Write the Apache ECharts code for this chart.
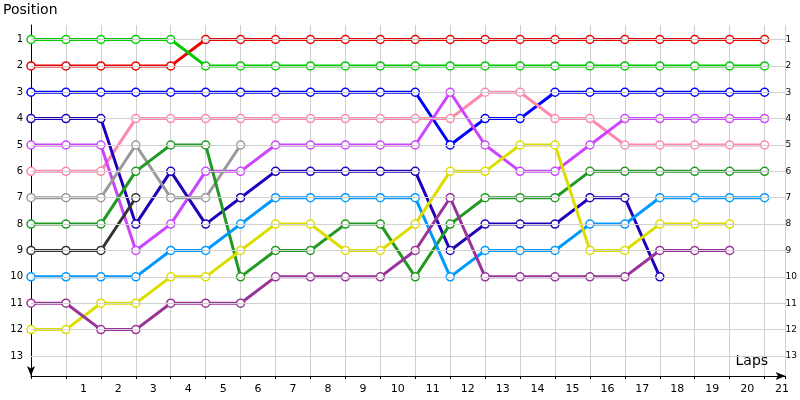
<!DOCTYPE html>
<html><head><meta charset="utf-8">
<script src="https://cdn.jsdelivr.net/npm/echarts@6/dist/echarts.min.js"></script>
<style>html,body{margin:0;background:#fff}#c{width:800px;height:400px}</style>
</head><body><div id="c"></div>
<script>
const laps = [0,1,2,3,4,5,6,7,8,9,10,11,12,13,14,15,16,17,18,19,20,21];
const red       = [2,2,2,2,2,1,1,1,1,1,1,1,1,1,1,1,1,1,1,1,1,1];
const green     = [1,1,1,1,1,2,2,2,2,2,2,2,2,2,2,2,2,2,2,2,2,2];
const blue      = [3,3,3,3,3,3,3,3,3,3,3,3,5,4,4,3,3,3,3,3,3,3];
const pink      = [6,6,6,4,4,4,4,4,4,4,4,4,4,3,3,4,4,5,5,5,5,5];
const magenta   = [5,5,5,9,8,6,6,5,5,5,5,5,3,5,6,6,5,4,4,4,4,4];
const navy      = [4,4,4,8,6,8,7,6,6,6,6,6,9,8,8,8,7,7,10];
const gray      = [7,7,7,5,7,7,5];
const darkGreen = [8,8,8,6,5,5,10,9,9,8,8,10,8,7,7,7,6,6,6,6,6,6];
const black     = [9,9,9,7];
const lightBlue = [10,10,10,10,9,9,8,7,7,7,7,7,10,9,9,9,8,8,7,7,7,7];
const yellow    = [12,12,11,11,10,10,9,8,8,9,9,8,6,6,5,5,9,9,8,8,8];
const purple    = [11,11,12,12,11,11,11,10,10,10,10,9,7,10,10,10,10,10,9,9,9];
const yTicks = [1,2,3,4,5,6,7,8,9,10,11,12,13];

const lines = [
  [red,'#ee0000'],[green,'#00cc00'],[blue,'#0000ff'],[pink,'#ff88aa'],
  [magenta,'#cc44ff'],[navy,'#2200bb'],[gray,'#999999'],[darkGreen,'#229922'],
  [black,'#333333'],[lightBlue,'#0099ff'],[yellow,'#dddd00'],[purple,'#993399']
];

const chart = echarts.init(document.getElementById('c'));
chart.setOption({
  animation: false,
  grid: { left: 31, right: 10, top: 25, bottom: 24 },
  xAxis: {
    type: 'value', min: 0, max: 21.6, interval: 1,
    name: 'Laps', nameLocation: 'end', nameGap: -50,
    nameTextStyle: { fontFamily: 'DejaVu Sans', fontSize: 14, color: '#000', verticalAlign: 'bottom', padding: [0,0,8,0] },
    axisLine: { lineStyle: { color: '#000' }, symbol: ['none','arrow'], symbolSize: [6,10] },
    axisTick: { show: true, length: 3, lineStyle: { color: '#000' } },
    axisLabel: {
      fontFamily: 'DejaVu Sans', fontSize: 11, color: '#000', padding: [0,0,0,35],
      formatter: v => (v >= 1 && v <= 21 && Number.isInteger(v)) ? String(v) : ''
    },
    splitLine: { show: true, lineStyle: { color: '#d0d0d0' } }
  },
  yAxis: [{
    type: 'value', inverse: true, min: 0.45, max: 13.76,
    name: 'Position', nameLocation: 'start', nameGap: 8,
    nameTextStyle: { fontFamily: 'DejaVu Sans', fontSize: 14, color: '#000', align: 'left', padding: [0,0,0,-28] },
    axisLine: { show: true, lineStyle: { color: '#000' }, symbol: ['arrow','none'], symbolSize: [6,10] },
    axisTick: { show: false },
    axisLabel: { fontFamily: 'DejaVu Sans', fontSize: 10, color: '#000', customValues: yTicks },
    splitLine: { show: false }
  },{
    type: 'value', inverse: true, min: 0.45, max: 13.76, position: 'right', offset: -8,
    axisLine: { show: false }, axisTick: { show: false },
    axisLabel: { fontFamily: 'DejaVu Sans', fontSize: 9, color: '#000', customValues: yTicks },
    splitLine: { show: false }
  }],
  series: [
    {
      type: 'line', data: [], silent: true,
      markLine: {
        silent: true, symbol: 'none', label: { show: false },
        lineStyle: { color: '#d0d0d0', type: 'solid', width: 1 },
        data: yTicks.map(t => ({ yAxis: t }))
      }
    },
    ...lines.map(([d, c]) => ({
      type: 'line',
      data: d.map((p, i) => [laps[i], p]),
      lineStyle: { color: c, width: 3 },
      itemStyle: { color: '#fff', borderColor: c, borderWidth: 1.5 },
      symbol: 'circle', symbolSize: 8, showSymbol: true
    }))
  ]
});
</script>
</body></html>
